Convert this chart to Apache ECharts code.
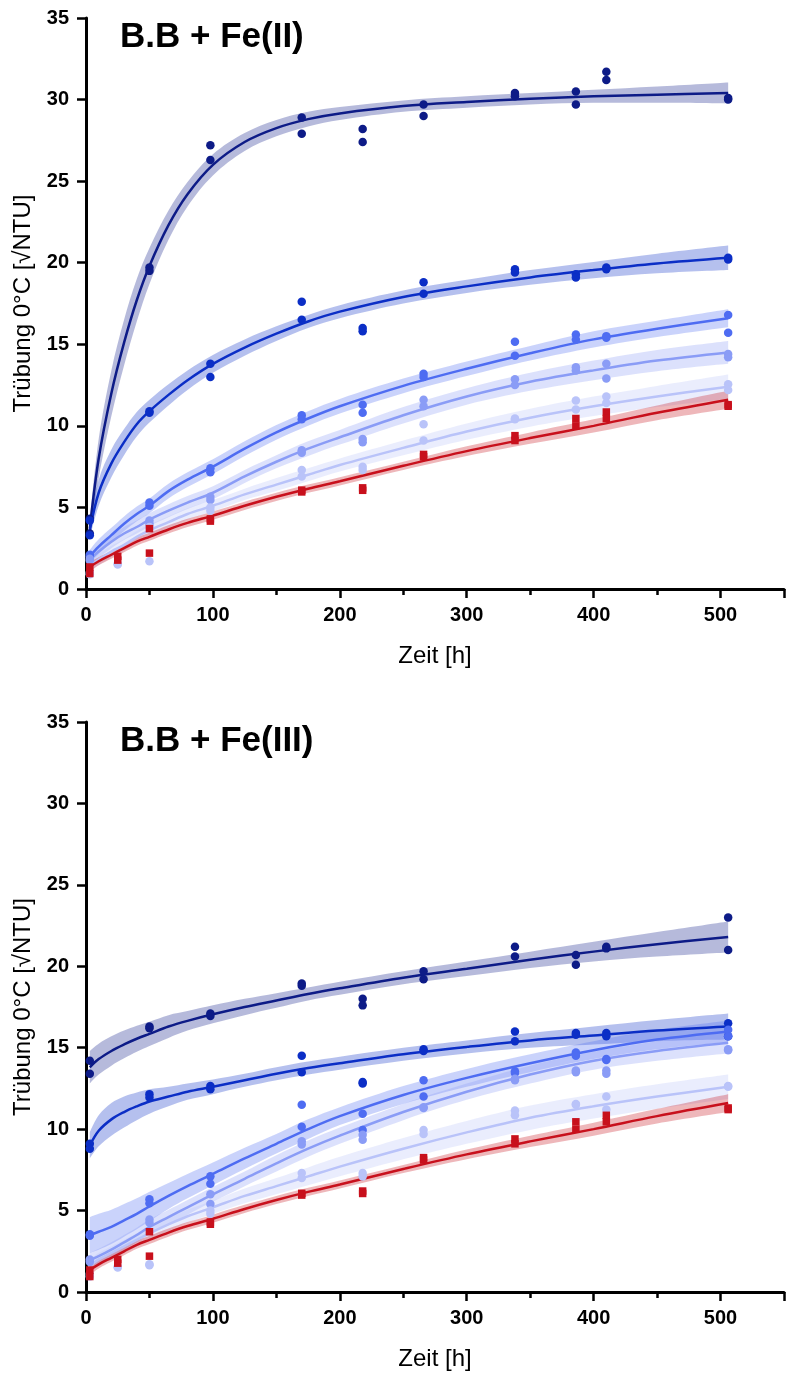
<!DOCTYPE html>
<html><head><meta charset="utf-8">
<script src="https://cdn.jsdelivr.net/npm/echarts@6/dist/echarts.min.js"></script>
<style>html,body{margin:0;padding:0;background:#fff}#c{width:787px;height:1373px}</style>
</head><body><div id="c"></div>
<script>
// ---------- shared ----------
const panelTitles = ['B.B + Fe(II)', 'B.B + Fe(III)'];
const xAxisTitle = 'Zeit [h]';
const yAxisTitle = 'Trübung 0°C [√NTU]';
const xTickLabels = ['0', '100', '200', '300', '400', '500'];
const yTickLabels = ['0', '5', '10', '15', '20', '25', '30', '35'];
const timePoints = [3, 25, 50, 98, 170, 218, 266, 338, 386, 410, 506];
const fitTimes = [3, 10, 20, 30, 40, 50, 65, 80, 100, 125, 150, 175, 200, 250, 300, 350, 400, 450, 506];
const seriesColors = ['#0d1b87', '#0b2ec6', '#4e6cf2', '#8a9cf6', '#b9c3f9', '#c8101c'];
const seriesSymbols = ['circle', 'circle', 'circle', 'circle', 'circle', 'rect'];

// ---------- Panel 1: Fe(II) ----------
const fe2_A_rep1 = [4.3, null, 19.7, 27.2, 28.9, 28.2, 29.7, 30.4, 30.5, 31.7, 30.1];
const fe2_A_rep2 = [3.4, null, 19.5, 26.3, 27.9, 27.4, 29.0, 30.2, 29.7, 31.2, 30.0];
const fe2_B_rep1 = [4.2, null, 10.9, 13.8, 17.6, 16.0, 18.8, 19.6, 19.3, 19.7, 20.3];
const fe2_B_rep2 = [3.3, null, 10.8, 13.0, 16.5, 15.8, 18.1, 19.4, 19.1, 19.6, 20.2];
const fe2_C_rep1 = [2.1, null, 5.3, 7.4, 10.65, 11.3, 13.2, 15.15, 15.6, 15.5, 16.8];
const fe2_C_rep2 = [2.0, null, 5.1, 7.15, 10.4, 10.8, 13.0, 14.3, 15.3, 15.4, 15.7];
const fe2_D_rep1 = [1.85, null, 4.2, 5.65, 8.5, 9.2, 11.6, 12.85, 13.6, 13.8, 14.4];
const fe2_D_rep2 = [1.75, null, 4.0, 5.45, 8.35, 9.0, 11.2, 12.5, 13.4, 12.9, 14.2];
const fe2_E_rep1 = [1.0, 1.55, 1.7, 5.0, 7.3, 7.5, 10.1, 10.45, 11.55, 11.8, 12.55];
const fe2_E_rep2 = [0.9, 1.5, 3.8, 4.8, 6.9, 7.3, 9.1, 10.4, 11.0, 11.4, 12.2];
const ctrl_rep1 = [1.35, 2.0, 2.2, 4.3, 6.06, 6.2, 8.25, 9.4, 10.45, 10.85, 11.3];
const ctrl_rep2 = [0.95, 1.77, 3.7, 4.16, 5.95, 6.05, 8.1, 9.1, 10.0, 10.45, 11.2];

const fe2_A_fit = [3.7, 8.0, 12.0, 15.1, 17.7, 19.8, 22.3, 24.2, 26.0, 27.4, 28.25, 28.8, 29.15, 29.6, 29.85, 30.05, 30.2, 30.3, 30.4];
const fe2_A_ci  = [0.5, 1.2, 1.4, 1.4, 1.3, 1.1, 0.9, 0.75, 0.65, 0.55, 0.5, 0.45, 0.4, 0.35, 0.35, 0.35, 0.4, 0.5, 0.65];
const fe2_B_fit = [3.6, 5.9, 7.7, 9.0, 10.1, 10.9, 11.9, 12.8, 13.8, 14.8, 15.65, 16.4, 17.0, 17.9, 18.55, 19.1, 19.55, 19.95, 20.3];
const fe2_B_ci  = [0.5, 0.8, 0.85, 0.8, 0.75, 0.7, 0.65, 0.6, 0.55, 0.5, 0.45, 0.4, 0.4, 0.4, 0.4, 0.45, 0.5, 0.6, 0.75];
const fe2_C_fit = [2.0, 2.6, 3.3, 4.0, 4.6, 5.1, 6.0, 6.7, 7.5, 8.6, 9.6, 10.45, 11.2, 12.45, 13.5, 14.45, 15.3, 15.95, 16.6];
const fe2_C_ci  = [0.4, 0.45, 0.45, 0.45, 0.45, 0.45, 0.45, 0.45, 0.45, 0.45, 0.45, 0.45, 0.45, 0.45, 0.45, 0.45, 0.5, 0.5, 0.55];
const fe2_D_fit = [1.8, 2.3, 2.9, 3.4, 3.8, 4.25, 4.8, 5.3, 5.9, 6.9, 7.8, 8.6, 9.3, 10.65, 11.8, 12.7, 13.4, 14.0, 14.5];
const fe2_D_ci  = [0.35, 0.4, 0.4, 0.4, 0.4, 0.4, 0.4, 0.4, 0.4, 0.4, 0.4, 0.45, 0.45, 0.5, 0.5, 0.55, 0.6, 0.65, 0.7];
const fe2_E_fit = [1.4, 1.8, 2.3, 2.7, 3.2, 3.6, 4.1, 4.6, 5.1, 5.8, 6.4, 7.0, 7.6, 8.65, 9.65, 10.5, 11.2, 11.8, 12.4];
const fe2_E_ci  = [0.3, 0.35, 0.35, 0.35, 0.35, 0.35, 0.35, 0.35, 0.35, 0.35, 0.4, 0.4, 0.4, 0.45, 0.5, 0.55, 0.6, 0.65, 0.75];
const ctrl_fit  = [1.35, 1.7, 2.1, 2.5, 2.9, 3.2, 3.65, 4.05, 4.5, 5.1, 5.65, 6.15, 6.6, 7.55, 8.45, 9.25, 10.0, 10.8, 11.6];
const ctrl_ci   = [0.3, 0.25, 0.25, 0.25, 0.25, 0.25, 0.25, 0.25, 0.25, 0.25, 0.25, 0.25, 0.25, 0.25, 0.3, 0.35, 0.4, 0.45, 0.55];

// ---------- Panel 2: Fe(III) ----------
const fe3_A_rep1 = [14.2, null, 16.3, 17.1, 18.95, 18.0, 19.7, 21.2, 20.7, 21.2, 23.0];
const fe3_A_rep2 = [13.4, null, 16.2, 16.95, 18.8, 17.6, 19.2, 20.6, 20.1, 21.1, 21.0];
const fe3_B_rep1 = [9.1, null, 12.15, 12.65, 14.5, 12.9, 14.9, 16.0, 15.9, 15.9, 16.5];
const fe3_B_rep2 = [8.8, null, 11.95, 12.45, 13.5, 12.8, 14.8, 15.4, 15.8, 15.7, 15.7];
const fe3_C_rep1 = [3.55, null, 5.7, 7.1, 11.5, 10.95, 13.0, 13.55, 14.7, 14.3, 16.1];
const fe3_C_rep2 = [3.45, null, 5.45, 6.65, 10.15, 9.95, 12.0, 13.45, 14.5, 14.25, 15.7];
const fe3_D_rep1 = [2.0, null, 4.45, 6.0, 9.25, 9.65, 11.35, 13.1, 13.6, 13.6, 14.9];
const fe3_D_rep2 = [1.85, null, 4.25, 5.4, 9.05, 9.35, 11.3, 13.0, 13.5, 13.4, 14.85];
const fe3_E_rep1 = [1.1, 1.55, 1.7, 5.0, 7.3, 7.3, 9.95, 11.15, 11.55, 12.0, 12.65];
const fe3_E_rep2 = [0.95, 1.5, 1.65, 4.8, 7.0, 7.1, 9.7, 10.85, 11.5, 11.2, 12.6];

const fe3_A_fit = [13.8, 14.3, 14.8, 15.2, 15.55, 15.85, 16.3, 16.65, 17.05, 17.5, 17.9, 18.3, 18.65, 19.3, 19.85, 20.4, 20.9, 21.35, 21.8];
const fe3_A_ci  = [1.0, 0.95, 0.9, 0.85, 0.8, 0.75, 0.7, 0.6, 0.55, 0.5, 0.45, 0.4, 0.4, 0.4, 0.45, 0.5, 0.6, 0.75, 0.95];
const fe3_B_fit = [9.0, 9.9, 10.6, 11.05, 11.4, 11.7, 12.0, 12.3, 12.6, 13.0, 13.4, 13.75, 14.05, 14.6, 15.05, 15.45, 15.75, 16.05, 16.3];
const fe3_B_ci  = [0.8, 0.95, 1.0, 0.95, 0.85, 0.75, 0.6, 0.5, 0.45, 0.4, 0.4, 0.4, 0.4, 0.4, 0.4, 0.45, 0.55, 0.65, 0.8];
const fe3_C_fit = [3.5, 3.7, 4.0, 4.4, 4.8, 5.25, 5.9, 6.5, 7.25, 8.2, 9.1, 10.0, 10.8, 12.1, 13.15, 14.05, 14.85, 15.5, 16.0];
const fe3_C_ci  = [1.1, 1.1, 1.05, 1.0, 0.95, 0.9, 0.8, 0.75, 0.7, 0.65, 0.6, 0.6, 0.55, 0.55, 0.55, 0.55, 0.55, 0.6, 0.65];
const fe3_D_fit = [1.95, 2.2, 2.6, 3.05, 3.5, 4.0, 4.6, 5.2, 6.0, 6.95, 7.9, 8.8, 9.6, 11.05, 12.3, 13.35, 14.2, 14.8, 15.3];
const fe3_D_ci  = [0.45, 0.45, 0.45, 0.45, 0.45, 0.45, 0.45, 0.45, 0.45, 0.45, 0.5, 0.5, 0.5, 0.5, 0.5, 0.55, 0.55, 0.6, 0.65];
const fe3_E_fit = [1.6, 2.0, 2.4, 2.8, 3.2, 3.6, 4.15, 4.65, 5.2, 5.9, 6.5, 7.1, 7.7, 8.8, 9.8, 10.7, 11.4, 12.0, 12.6];
const fe3_E_ci  = [0.4, 0.4, 0.4, 0.4, 0.4, 0.4, 0.4, 0.4, 0.4, 0.45, 0.5, 0.55, 0.6, 0.65, 0.7, 0.75, 0.75, 0.75, 0.75];

const panels = [
  { fits: [fe2_A_fit, fe2_B_fit, fe2_C_fit, fe2_D_fit, fe2_E_fit, ctrl_fit],
    cis:  [fe2_A_ci, fe2_B_ci, fe2_C_ci, fe2_D_ci, fe2_E_ci, ctrl_ci],
    reps: [[fe2_A_rep1, fe2_A_rep2], [fe2_B_rep1, fe2_B_rep2], [fe2_C_rep1, fe2_C_rep2],
           [fe2_D_rep1, fe2_D_rep2], [fe2_E_rep1, fe2_E_rep2], [ctrl_rep1, ctrl_rep2]] },
  { fits: [fe3_A_fit, fe3_B_fit, fe3_C_fit, fe3_D_fit, fe3_E_fit, ctrl_fit],
    cis:  [fe3_A_ci, fe3_B_ci, fe3_C_ci, fe3_D_ci, fe3_E_ci, ctrl_ci],
    reps: [[fe3_A_rep1, fe3_A_rep2], [fe3_B_rep1, fe3_B_rep2], [fe3_C_rep1, fe3_C_rep2],
           [fe3_D_rep1, fe3_D_rep2], [fe3_E_rep1, fe3_E_rep2], [ctrl_rep1, ctrl_rep2]] }
];

const FONT = 'Liberation Sans, Arial, sans-serif';
const SMOOTH = 0.35;
const series = [];
panels.forEach((p, pi) => {
  // confidence bands: stacked (value dimension first so the stack is on y)
  p.fits.forEach((fit, k) => {
    const ci = p.cis[k];
    const st = 'band' + pi + '_' + k;
    series.push({ type: 'line', xAxisIndex: pi, yAxisIndex: pi, stack: st, smooth: SMOOTH,
      symbol: 'none', silent: true, z: 2, lineStyle: { opacity: 0 }, encode: { x: 1, y: 0 },
      data: fitTimes.map((x, i) => [fit[i] - ci[i], x]) });
    series.push({ type: 'line', xAxisIndex: pi, yAxisIndex: pi, stack: st, smooth: SMOOTH,
      symbol: 'none', silent: true, z: 2, lineStyle: { opacity: 0 }, encode: { x: 1, y: 0 },
      areaStyle: { color: seriesColors[k], opacity: 0.3 },
      data: fitTimes.map((x, i) => [2 * ci[i], x]) });
  });
  // fit lines
  p.fits.forEach((fit, k) => {
    series.push({ type: 'line', xAxisIndex: pi, yAxisIndex: pi, smooth: SMOOTH,
      symbol: 'none', z: 3,
      lineStyle: { color: seriesColors[k], width: 2.5 },
      data: fitTimes.map((x, i) => [x, fit[i]]) });
  });
  // points
  p.reps.forEach((reps, k) => {
    const pts = [];
    reps.forEach(r => r.forEach((v, i) => { if (v !== null) pts.push([timePoints[i], v]); }));
    series.push({ type: 'scatter', xAxisIndex: pi, yAxisIndex: pi, z: 4,
      symbol: seriesSymbols[k], symbolSize: seriesSymbols[k] === 'rect' ? 7.5 : 8.5,
      itemStyle: { color: seriesColors[k], opacity: 1 }, data: pts });
  });
});

const grids = [
  { left: 86, right: -6, top: 18, bottom: 784 },
  { left: 86, right: -6, top: 722, bottom: 81 }
];
const xAxes = grids.map((g, i) => ({
  type: 'value', gridIndex: i, min: 0, max: 550, interval: 100,
  name: xAxisTitle, nameLocation: 'middle', nameGap: 55,
  nameTextStyle: { fontFamily: FONT, fontSize: 24, color: '#000' },
  axisLine: { show: true, onZero: false, lineStyle: { color: '#000', width: 3 } },
  axisTick: { show: true, inside: false, length: 9, lineStyle: { color: '#000', width: 2.5 } },
  minorTick: { show: true, splitNumber: 2, length: 6, lineStyle: { color: '#000', width: 2.5 } },
  splitLine: { show: false },
  axisLabel: { fontFamily: FONT, fontSize: 20, fontWeight: 'bold', color: '#000', margin: 16,
    formatter: v => (v % 100 === 0 && xTickLabels[v / 100] !== undefined) ? xTickLabels[v / 100] : '' }
}));
const yAxes = grids.map((g, i) => ({
  type: 'value', gridIndex: i, min: 0, max: 35, interval: 5,
  name: yAxisTitle, nameLocation: 'middle', nameGap: 50,
  nameTextStyle: { fontFamily: FONT, fontSize: 24, color: '#000' },
  axisLine: { show: true, onZero: false, lineStyle: { color: '#000', width: 3 } },
  axisTick: { show: true, inside: false, length: 9, lineStyle: { color: '#000', width: 2.5 } },
  splitLine: { show: false },
  axisLabel: { fontFamily: FONT, fontSize: 20, fontWeight: 'bold', color: '#000', margin: 17,
    formatter: v => yTickLabels[v / 5] !== undefined ? yTickLabels[v / 5] : '' }
}));

const chart = echarts.init(document.getElementById('c'), null, { renderer: 'canvas' });
chart.setOption({
  animation: false,
  backgroundColor: '#fff',
  title: panelTitles.map((t, i) => ({
    text: t, left: 120, top: i === 0 ? 20 : 724, padding: 0,
    textStyle: { fontFamily: FONT, fontSize: 35, fontWeight: 'bold', color: '#000' }
  })),
  grid: grids,
  xAxis: xAxes,
  yAxis: yAxes,
  series: series
});
</script></body></html>
